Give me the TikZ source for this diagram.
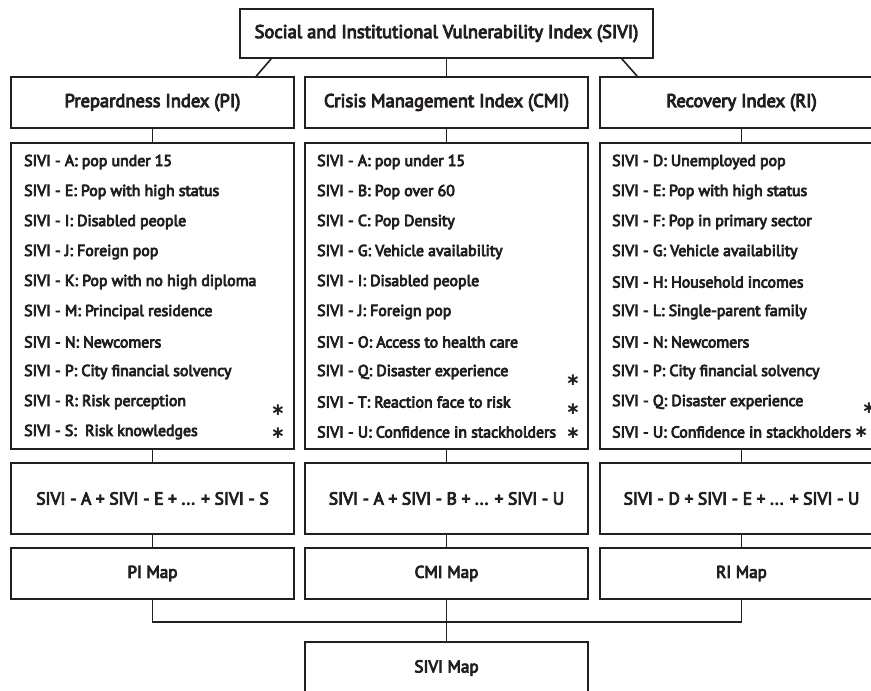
\documentclass[tikz,border=0pt]{standalone}
\usepackage{fontspec}
\setmainfont{PT Sans}
\newfontface\semib{PT Sans}[RawFeature={embolden=5}]
\newfontfamily\starfont{DejaVu Sans}
\usetikzlibrary{calc}
\definecolor{ink}{HTML}{231F20}
\begin{document}
\begin{tikzpicture}[x=1pt,y=-1pt,
  box/.style={draw=ink,line width=1.6pt,inner sep=0pt,minimum width=283pt,text=ink},
  hdr/.style={box,minimum height=51pt,font=\semib\fontsize{18.5}{22}\selectfont},
  lst/.style={box,minimum height=306pt},
  frm/.style={box,minimum height=71pt,font=\semib\fontsize{17.4}{20}\selectfont},
  mapbox/.style={box,minimum height=51pt,font=\semib\fontsize{17}{20}\selectfont},
  item/.style={anchor=west,inner sep=0pt,text=ink,font=\semib\fontsize{15.8}{18}\selectfont},
  star/.style={inner sep=0pt,text=ink,font=\starfont\bfseries\fontsize{17}{17}\selectfont},
  link/.style={draw=ink,line width=1.6pt}]
\useasboundingbox (0,0) rectangle (871,691);
\clip (0,0) rectangle (871,691);
\fill[white] (0,0) rectangle (871,691);

\node[box,minimum width=413pt,minimum height=49pt,font=\semib\fontsize{18.5}{22}\selectfont] (top) at (446.5,33.5) {Social and Institutional Vulnerability Index (SIVI)};

\node[hdr] (pih) at (152.5,102.5) {Prepardness Index (PI)};
\node[hdr] (cmih) at (446.5,102.5) {Crisis Management Index (CMI)};
\node[hdr] (rih) at (741.5,102.5) {Recovery Index (RI)};

\node[lst] (pil) at (152.5,296) {};
\node[lst] (cmil) at (446.5,296) {};
\node[lst] (ril) at (741.5,296) {};

\foreach \t [count=\i from 0] in {SIVI - A: pop under 15, SIVI - E: Pop with high status, SIVI - I: Disabled people, SIVI - J: Foreign pop, SIVI - K: Pop with no high diploma, SIVI - M: Principal residence, SIVI - N: Newcomers, SIVI - P: City financial solvency, SIVI - R: Risk perception, SIVI - S:\ \ Risk knowledges}
  \node[item] (pi\i) at (24,162+30*\i) {\t};
\foreach \t [count=\i from 0] in {SIVI - A: pop under 15, SIVI - B: Pop over 60, SIVI - C: Pop Density, SIVI - G: Vehicle availability, SIVI - I: Disabled people, SIVI - J: Foreign pop, SIVI - O: Access to health care, SIVI - Q: Disaster experience, SIVI - T: Reaction face to risk, SIVI - U: Confidence in stackholders}
  \node[item] (cmi\i) at (317,162+30*\i) {\t};
\foreach \t [count=\i from 0] in {SIVI - D: Unemployed pop, SIVI - E: Pop with high status, SIVI - F: Pop in primary sector, SIVI - G: Vehicle availability, SIVI - H: Household incomes, SIVI - L: Single-parent family, SIVI - N: Newcomers, SIVI - P: City financial solvency, SIVI - Q: Disaster experience, SIVI - U: Confidence in stackholders}
  \node[item] (ri\i) at (612,162+30*\i) {\t};

\node[star] (s1) at (278,410) {∗};
\node[star] (s2) at (278,433) {∗};
\node[star] (s3) at (573,380) {∗};
\node[star] (s4) at (573,409) {∗};
\node[star] (s5) at (573,433) {∗};
\node[star] (s6) at (869,408) {∗};
\node[star] (s7) at ([xshift=10pt]ri9.east) {∗};

\node[frm] (pif) at (152.5,498.5) {SIVI - A + SIVI - E + ... + SIVI - S};
\node[frm] (cmif) at (446.5,498.5) {SIVI - A + SIVI - B + ... + SIVI - U};
\node[frm] (rif) at (741.5,498.5) {SIVI - D + SIVI - E + ... + SIVI - U};

\node[mapbox] (pim) at (152.5,573.5) {PI Map};
\node[mapbox] (cmim) at (446.5,573.5) {CMI Map};
\node[mapbox] (rim) at (741.5,573.5) {RI Map};

\node[mapbox,minimum height=52pt] (sm) at (446.5,668) {SIVI Map};

\draw[link] ([xshift=32pt]top.south west) -- ([xshift=246pt]pih.north west);
\draw[link] (top.south) -- (cmih.north);
\draw[link] ([xshift=-32pt]top.south east) -- ([xshift=38pt]rih.north west);

\foreach \c in {pi,cmi,ri}{
  \draw[link] (\c h.south) -- (\c l.north);
  \draw[link] (\c l.south) -- (\c f.north);
  \draw[link] (\c f.south) -- (\c m.north);
}
\coordinate (j) at (446.5,622);
\draw[link] (pim.south) |- (j) -| (rim.south);
\draw[link] (cmim.south) -- (sm.north);
\end{tikzpicture}
\end{document}
